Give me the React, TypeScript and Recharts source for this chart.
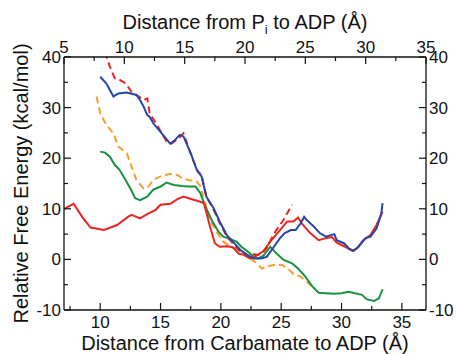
import { LineChart, Line, XAxis, YAxis } from "recharts";

// curves, x in Å (carbamate–ADP distance), y in kcal/mol
const redSolidX = [7.0, 7.8, 8.5, 9.2, 10.3, 11.4, 12.3, 12.6, 13.3, 14.0, 14.6, 15.0, 15.8, 16.4, 16.9, 17.6, 18.3, 18.6, 19.1, 19.5, 19.9, 20.5, 21.0, 21.5, 21.9, 22.4, 23.0, 23.5, 24.2, 24.9, 25.5, 26.0, 26.4, 26.7, 27.4, 28.1, 28.7, 29.2, 29.6, 30.2, 30.9, 31.3, 31.8, 32.4, 32.9, 33.4];
const redSolidY = [10.0, 11.0, 8.4, 6.3, 5.8, 6.8, 8.4, 8.8, 8.1, 9.1, 9.8, 10.8, 11.0, 11.9, 12.4, 11.9, 11.4, 11.1, 6.5, 3.2, 2.5, 2.6, 2.4, 1.1, 0.9, 0.2, 0.8, 1.6, 3.8, 5.8, 7.5, 7.5, 8.3, 7.1, 5.2, 3.8, 4.2, 4.4, 3.3, 2.6, 1.7, 2.2, 3.8, 4.8, 6.8, 9.4];

const redDashX = [10.4, 10.8, 11.2, 11.6, 12.1, 12.6, 13.2, 13.6, 13.9, 14.1, 14.7, 15.5, 15.9, 16.5, 16.9, 17.2, 17.7, 18.1, 18.4, 18.8, 19.4, 19.9, 20.5, 21.1, 21.6, 22.2, 22.6, 23.0, 23.4, 23.8, 24.2, 24.6, 25.1, 25.5, 25.9];
const redDashY = [41.0, 38.1, 35.8, 35.5, 34.8, 33.1, 32.2, 31.5, 31.8, 28.9, 26.6, 23.3, 22.9, 23.9, 24.9, 22.9, 19.6, 17.3, 16.7, 12.4, 9.8, 7.2, 4.5, 2.9, 1.6, 0.6, 1.1, 0.9, 1.2, 2.2, 4.2, 5.8, 7.5, 9.1, 10.8];

const blueX = [10.0, 10.5, 11.1, 11.5, 12.2, 13.0, 13.3, 13.6, 13.9, 14.1, 14.4, 15.1, 15.8, 16.2, 16.6, 16.9, 17.5, 18.0, 18.4, 18.8, 19.4, 19.9, 20.5, 21.1, 21.6, 22.2, 22.7, 23.3, 23.8, 24.4, 24.9, 25.3, 25.8, 26.2, 26.6, 26.9, 27.1, 27.7, 28.2, 28.7, 29.4, 29.6, 30.2, 30.6, 31.0, 31.4, 32.0, 32.4, 32.9, 33.3, 33.4];
const blueY = [36.1, 34.8, 32.2, 32.8, 33.0, 32.5, 31.5, 30.2, 28.5, 28.2, 26.9, 24.9, 22.9, 23.6, 24.6, 24.3, 21.0, 17.7, 16.4, 12.4, 10.1, 7.5, 4.8, 3.2, 1.9, 0.9, 0.2, 0.2, 0.5, 2.5, 4.2, 5.2, 5.8, 5.8, 7.1, 8.4, 7.8, 6.5, 5.2, 4.5, 5.0, 3.8, 3.2, 2.2, 1.7, 2.5, 4.2, 4.5, 6.1, 9.1, 11.1];

const orangeX = [9.7, 10.0, 10.5, 11.1, 11.5, 12.2, 12.6, 13.0, 13.6, 14.0, 14.4, 15.0, 15.8, 16.4, 16.8, 17.3, 18.0, 18.3, 18.7, 19.1, 19.7, 20.2, 20.8, 21.3, 21.9, 22.4, 23.0, 23.4, 23.8, 24.4, 25.1, 25.5, 26.0, 26.6, 27.1, 27.6];
const orangeY = [32.2, 28.9, 26.6, 24.9, 22.3, 21.0, 18.3, 15.7, 14.0, 14.4, 15.7, 16.4, 16.9, 16.7, 16.0, 15.7, 15.4, 14.4, 11.1, 7.8, 5.2, 3.5, 2.5, 2.0, 1.2, 0.2, -0.8, -1.8, -1.4, -1.1, -1.1, -1.8, -2.8, -3.4, -4.4, -5.4];

const greenX = [10.0, 10.4, 10.8, 11.2, 11.6, 12.1, 12.5, 12.9, 13.3, 13.9, 14.4, 15.0, 15.5, 16.1, 16.8, 17.3, 17.9, 18.3, 18.7, 19.3, 19.8, 20.2, 20.8, 21.3, 21.7, 22.2, 22.7, 23.1, 23.5, 23.9, 24.1, 24.6, 25.2, 25.9, 26.4, 27.0, 27.6, 28.1, 28.7, 29.4, 30.0, 30.6, 31.1, 31.7, 32.1, 32.7, 33.1, 33.4];
const greenY = [21.3, 21.1, 20.3, 18.7, 17.7, 15.7, 14.0, 12.1, 11.7, 12.4, 13.8, 14.4, 15.2, 14.7, 14.5, 14.4, 14.4, 13.1, 10.5, 7.5, 5.5, 4.5, 4.0, 3.5, 2.5, 1.6, 0.6, 0.2, 0.7, 1.9, 2.5, 1.2, -0.1, -0.8, -1.8, -3.4, -5.4, -6.6, -6.7, -6.8, -6.7, -6.4, -6.7, -7.0, -7.9, -8.2, -7.7, -5.9];

const bottomTicks = [7.5, 10, 12.5, 15, 17.5, 20, 22.5, 25, 27.5, 30, 32.5, 35];
const topTicks = [5, 7.5, 10, 12.5, 15, 17.5, 20, 22.5, 25, 27.5, 30, 32.5, 35];
const yTicks = [-10, -5, 0, 5, 10, 15, 20, 25, 30, 35, 40];

const zip = (xs: number[], ys: number[]) => xs.map((x, i) => ({ x, y: ys[i] }));

const FONT = "'Liberation Sans', Arial, Helvetica, sans-serif";
const W = 456;
const H = 354;
const LEFT = 64;
const RIGHT = 426;
const TOP = 57;
const BOTTOM = 310;

const isMajor = (v: number) => v % 5 === 0;

function BottomTick({ x, payload }: any) {
  const v = payload.value;
  const len = isMajor(v) ? 7 : 4;
  return (
    <g>
      <line x1={x} y1={BOTTOM} x2={x} y2={BOTTOM - len} stroke="#111" strokeWidth={1.2} />
      {isMajor(v) && (
        <text x={x} y={328} textAnchor="middle" fontSize={17} fontFamily={FONT} fill="#111">
          {v}
        </text>
      )}
    </g>
  );
}

function TopTick({ x, payload }: any) {
  const v = payload.value;
  const len = isMajor(v) ? 7 : 4;
  return (
    <g>
      <line x1={x} y1={TOP} x2={x} y2={TOP + len} stroke="#111" strokeWidth={1.2} />
      {isMajor(v) && (
        <text x={x} y={53} textAnchor="middle" fontSize={17} fontFamily={FONT} fill="#111">
          {v}
        </text>
      )}
    </g>
  );
}

function LeftTick({ y, payload }: any) {
  const v = payload.value;
  const major = v % 10 === 0;
  return (
    <g>
      <line x1={LEFT} y1={y} x2={LEFT + (major ? 7 : 4)} y2={y} stroke="#111" strokeWidth={1.2} />
      {major && (
        <text x={61} y={y + 6} textAnchor="end" fontSize={17} fontFamily={FONT} fill="#111">
          {v}
        </text>
      )}
    </g>
  );
}

function RightTick({ y, payload }: any) {
  const v = payload.value;
  const major = v % 10 === 0;
  return (
    <g>
      <line x1={RIGHT} y1={y} x2={RIGHT - (major ? 7 : 4)} y2={y} stroke="#111" strokeWidth={1.2} />
      {major && (
        <text x={429} y={y + 6} textAnchor="start" fontSize={17} fontFamily={FONT} fill="#111">
          {v}
        </text>
      )}
    </g>
  );
}

export default function App() {
  return (
    <div style={{ position: "absolute", left: 0, top: 0, background: "#fff" }}>
      <LineChart width={W} height={H} margin={{ top: 0, right: 0, bottom: 0, left: 0 }}>
        <XAxis
          xAxisId="bottom"
          type="number"
          dataKey="x"
          domain={[7, 37]}
          ticks={bottomTicks}
          interval={0}
          height={BOTTOM === 310 ? 44 : 44}
          tick={<BottomTick />}
          tickLine={false}
          axisLine={{ stroke: "#111", strokeWidth: 1.3 }}
          allowDataOverflow
          label={{
            content: () => (
              <text x={245} y={350} textAnchor="middle" fontSize={20} fontFamily={FONT} fill="#111">
                Distance from Carbamate to ADP (Å)
              </text>
            ),
          }}
        />
        <XAxis
          xAxisId="top"
          orientation="top"
          type="number"
          dataKey="x"
          domain={[5, 35]}
          ticks={topTicks}
          interval={0}
          height={TOP}
          tick={<TopTick />}
          tickLine={false}
          axisLine={{ stroke: "#111", strokeWidth: 1.3 }}
          allowDataOverflow
          label={{
            content: () => (
              <text x={245} y={29} textAnchor="middle" fontSize={20} fontFamily={FONT} fill="#111">
                <tspan>Distance from P</tspan>
                <tspan fontSize={13} dy={5}>i</tspan>
                <tspan dy={-5}> to ADP (Å)</tspan>
              </text>
            ),
          }}
        />
        <YAxis
          yAxisId="left"
          type="number"
          domain={[-10, 40]}
          ticks={yTicks}
          interval={0}
          width={LEFT}
          tick={<LeftTick />}
          tickLine={false}
          axisLine={{ stroke: "#111", strokeWidth: 1.3 }}
          allowDataOverflow
          label={{
            content: () => (
              <text
                x={28}
                y={183.5}
                transform="rotate(-90 28 183.5)"
                textAnchor="middle"
                fontSize={20}
                fontFamily={FONT}
                fill="#111"
              >
                Relative Free Energy (kcal/mol)
              </text>
            ),
          }}
        />
        <YAxis
          yAxisId="right"
          orientation="right"
          type="number"
          domain={[-10, 40]}
          ticks={yTicks}
          interval={0}
          width={W - RIGHT}
          tick={<RightTick />}
          tickLine={false}
          axisLine={{ stroke: "#111", strokeWidth: 1.3 }}
          allowDataOverflow
        />

        <Line xAxisId="bottom" yAxisId="left" data={zip(orangeX, orangeY)} dataKey="y" stroke="#f6a02c" strokeWidth={2} strokeDasharray="7 4" dot={false} isAnimationActive={false} />
        <Line xAxisId="bottom" yAxisId="left" data={zip(greenX, greenY)} dataKey="y" stroke="#1a9140" strokeWidth={2} dot={false} isAnimationActive={false} />
        <Line xAxisId="bottom" yAxisId="left" data={zip(redSolidX, redSolidY)} dataKey="y" stroke="#e8251f" strokeWidth={2} dot={false} isAnimationActive={false} />
        <Line xAxisId="bottom" yAxisId="left" data={zip(redDashX, redDashY)} dataKey="y" stroke="#e8251f" strokeWidth={2} strokeDasharray="7 4" dot={false} isAnimationActive={false} />
        <Line xAxisId="bottom" yAxisId="left" data={zip(blueX, blueY)} dataKey="y" stroke="#2546a6" strokeWidth={2} dot={false} isAnimationActive={false} />
      </LineChart>
    </div>
  );
}
